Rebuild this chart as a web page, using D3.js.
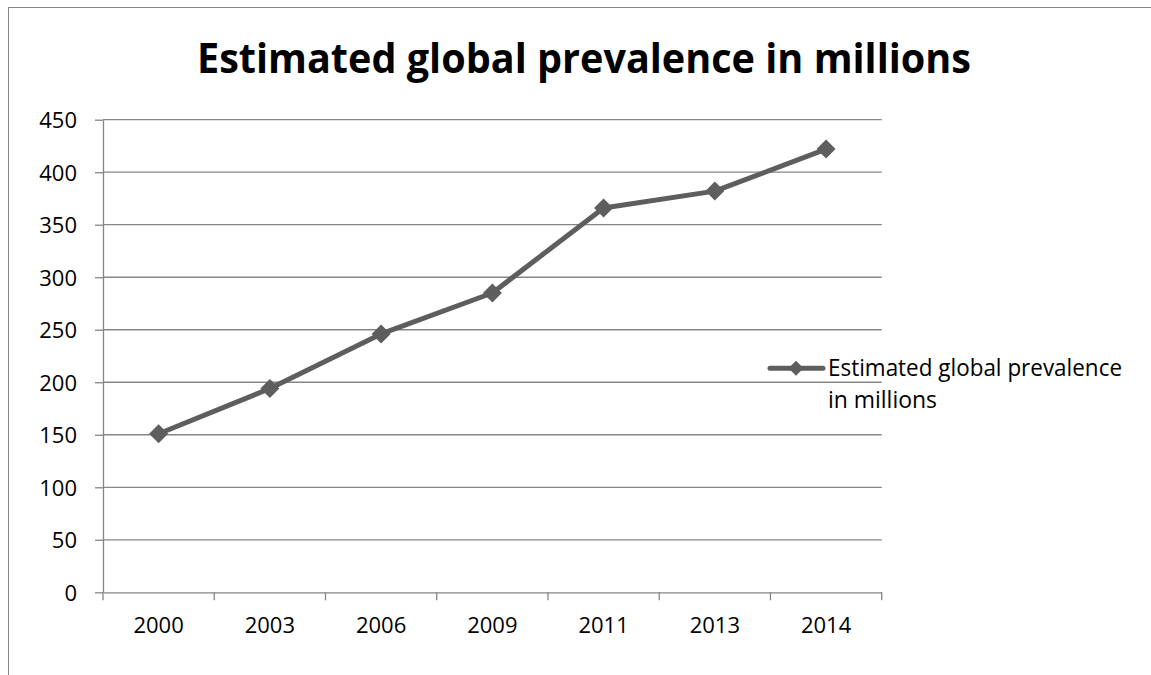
<!DOCTYPE html>
<html>
<head>
<meta charset="utf-8">
<script src="https://cdn.jsdelivr.net/npm/d3@7"></script>
<style>
  html, body { margin: 0; padding: 0; background: #fff; }
  svg { display: block; }
  text { font-family: "Open Sans", "Noto Sans", sans-serif; fill: #000; }
</style>
</head>
<body>
<svg id="chart" width="1151" height="675"></svg>
<script>
const years = ["2000", "2003", "2006", "2009", "2011", "2013", "2014"];
const prevalence = [151, 194, 246, 285, 366, 382, 422];
const yTicks = [0, 50, 100, 150, 200, 250, 300, 350, 400, 450];
const titleText = "Estimated global prevalence in millions";
const legendLines = ["Estimated global prevalence", "in millions"];

const svg = d3.select("#chart");
const W = 1151, H = 675;
const gridColor = "#868686";
const lineColor = "#5e5e5e";

const plot = { left: 103, right: 881.7, top: 119.7, bottom: 592.3 };

// outer frame (chart area border, extends past the viewport)
svg.append("rect")
  .attr("x", 8.5).attr("y", 7.5)
  .attr("width", W + 20).attr("height", H + 20)
  .attr("fill", "none").attr("stroke", gridColor).attr("stroke-width", 1);

const x = d3.scaleBand().domain(years).range([plot.left, plot.right]).padding(0);
const y = d3.scaleLinear().domain([0, 450]).range([plot.bottom, plot.top]);

// horizontal gridlines
svg.append("g").selectAll("line").data(yTicks.filter(d => d > 0)).join("line")
  .attr("x1", plot.left).attr("x2", plot.right)
  .attr("y1", d => y(d)).attr("y2", d => y(d))
  .attr("stroke", gridColor).attr("stroke-width", 1.3);

// y axis
const yAxis = svg.append("g")
  .attr("transform", `translate(${plot.left},0)`)
  .call(d3.axisLeft(y).tickValues(yTicks).tickSize(8).tickPadding(18).tickSizeOuter(0));
yAxis.select(".domain").attr("stroke", gridColor).attr("stroke-width", 1.3);
yAxis.selectAll(".tick line").attr("stroke", gridColor).attr("stroke-width", 1.3);
yAxis.selectAll(".tick text")
  .style("font-size", "22px").attr("fill", "#000").attr("dy", "0.36em");

// x axis
const xAxis = svg.append("g")
  .attr("transform", `translate(0,${plot.bottom})`)
  .call(d3.axisBottom(x).tickSize(0).tickPadding(25).tickSizeOuter(0));
xAxis.select(".domain").attr("stroke", gridColor).attr("stroke-width", 1.3);
xAxis.selectAll(".tick text").style("font-size", "22px").attr("fill", "#000");

// category boundary ticks
const boundaries = years.map(d => x(d)).concat([x(years[years.length - 1]) + x.bandwidth()]);
svg.append("g").selectAll("line").data(boundaries).join("line")
  .attr("x1", d => d).attr("x2", d => d)
  .attr("y1", plot.bottom).attr("y2", plot.bottom + 8)
  .attr("stroke", gridColor).attr("stroke-width", 1.3);

// data line
const pts = years.map((yr, i) => [x(yr) + x.bandwidth() / 2, y(prevalence[i])]);
svg.append("path")
  .attr("d", d3.line()(pts))
  .attr("fill", "none").attr("stroke", lineColor)
  .attr("stroke-width", 5).attr("stroke-linejoin", "round");

const diamond = s => `M0,${-s}L${s},0L0,${s}L${-s},0Z`;
svg.append("g").selectAll("path").data(pts).join("path")
  .attr("transform", d => `translate(${d[0]},${d[1]})`)
  .attr("d", diamond(9.5)).attr("fill", lineColor);

// title
svg.append("text")
  .attr("x", 197).attr("y", 72.7)
  .style("font-weight", "bold").style("font-size", "42px")
  .attr("textLength", 774).attr("lengthAdjust", "spacingAndGlyphs")
  .text(titleText);

// legend
const lg = svg.append("g");
lg.append("line").attr("x1", 770).attr("x2", 823).attr("y1", 368.3).attr("y2", 368.3)
  .attr("stroke", lineColor).attr("stroke-width", 5).attr("stroke-linecap", "round");
lg.append("path").attr("transform", "translate(796,368.3)").attr("d", diamond(7.5)).attr("fill", lineColor);
lg.append("text").attr("x", 828).attr("y", 375.5).style("font-size", "24px")
  .attr("textLength", 294).attr("lengthAdjust", "spacingAndGlyphs").text(legendLines[0]);
lg.append("text").attr("x", 828).attr("y", 408).style("font-size", "24px")
  .attr("textLength", 109).attr("lengthAdjust", "spacingAndGlyphs").text(legendLines[1]);
</script>
</body>
</html>
